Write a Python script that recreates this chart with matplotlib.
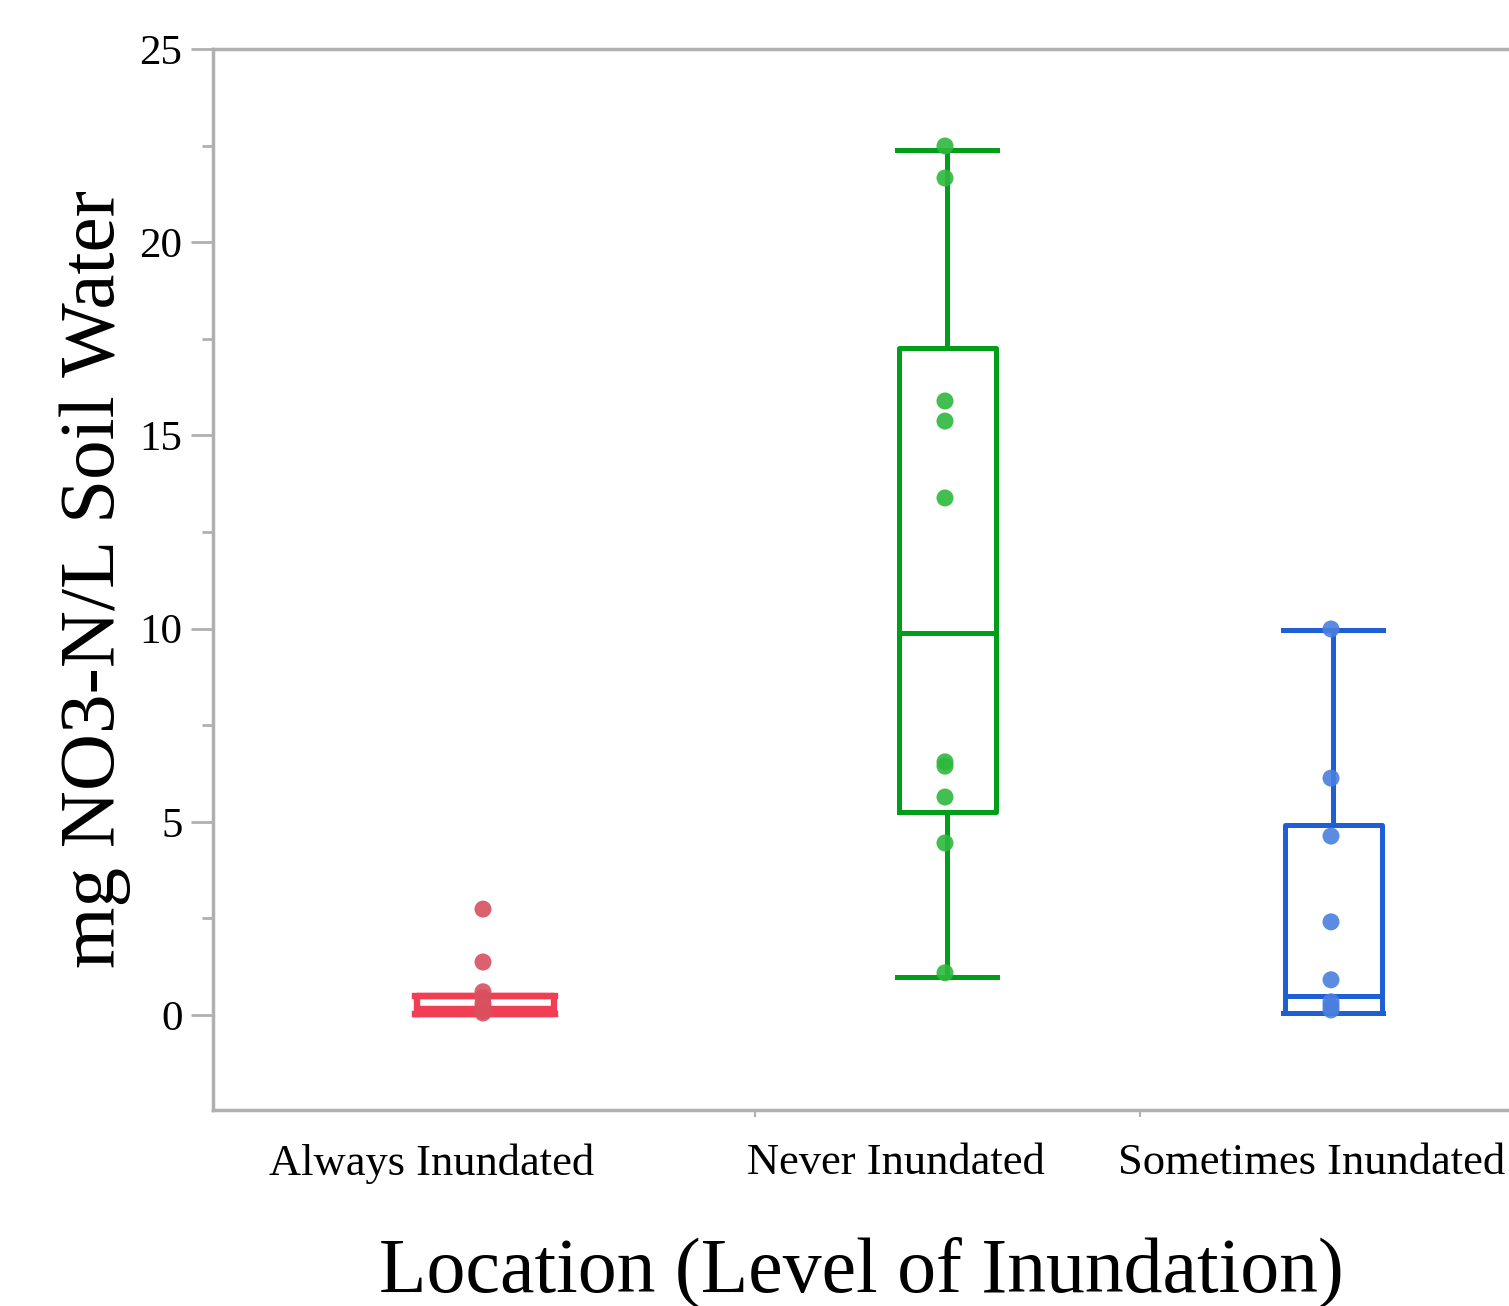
import matplotlib.pyplot as plt
from matplotlib.ticker import MultipleLocator

# groups and raw points
groups = ['Always Inundated', 'Never Inundated', 'Sometimes Inundated']
always_pts = [2.74, 1.37, 0.6, 0.45, 0.3, 0.2, 0.1, 0.05]
never_pts = [22.49, 21.66, 15.89, 15.37, 13.38, 6.55, 6.44, 5.64, 4.45, 1.09]
sometimes_pts = [9.99, 6.13, 4.63, 2.41, 0.91, 0.34, 0.23, 0.13]

# box summaries as JMP drew them
q1s = [0.03, 5.25, 0.05]
medians = [0.15, 9.89, 0.49]
q3s = [0.5, 17.26, 4.92]
whis_lo = [0.03, 0.98, 0.05]
whis_hi = [0.5, 22.39, 9.96]

box_colors = ['#f03e55', '#009e19', '#1f5fd6']
dot_colors = ['#d9505f', '#2db83d', '#4a7fdf']

# layout (horizontal positions in axis pixel units)
box_pos = [272, 734, 1120]
box_w = [137, 97, 97]
box_lw = [4.6, 3.6, 3.6]
label_pos = [219, 683, 1099]
sep_pos = [542, 927]

plt.rcParams['font.family'] = ['Liberation Serif', 'DejaVu Serif']

fig = plt.figure(figsize=(15.09, 13.06), dpi=100)
ax = fig.add_axes([213 / 1509, 196 / 1306, 1 - 213 / 1509, 1061 / 1306])

all_pts = [always_pts, never_pts, sometimes_pts]
for i in range(3):
    stats = [{'med': medians[i], 'q1': q1s[i], 'q3': q3s[i],
              'whislo': whis_lo[i], 'whishi': whis_hi[i], 'fliers': []}]
    c = box_colors[i]
    lw = box_lw[i]
    ax.bxp(stats, positions=[box_pos[i]], widths=box_w[i], showfliers=False,
           boxprops=dict(color=c, linewidth=lw),
           medianprops=dict(color=c, linewidth=lw),
           whiskerprops=dict(color=c, linewidth=lw),
           capprops=dict(color=c, linewidth=lw), capwidths=box_w[i] + 3,
           manage_ticks=False, zorder=2)
    ax.scatter([box_pos[i] - 2] * len(all_pts[i]), all_pts[i], s=150,
               color=dot_colors[i], alpha=0.9, edgecolors='none', zorder=3)

ax.set_xlim(0, 1296)
ax.set_ylim(-2.46, 25)

ax.yaxis.set_major_locator(MultipleLocator(5))
ax.yaxis.set_minor_locator(MultipleLocator(2.5))
ax.set_xticks(label_pos, groups, fontsize=32)
ax.set_xticks(sep_pos, minor=True)
ax.tick_params(axis='x', which='major', length=0, pad=24)
ax.tick_params(axis='x', which='minor', length=5, width=1.5, color='#b0b0b0')
ax.tick_params(axis='y', which='major', length=16, width=2, color='#b0b0b0',
               labelsize=31, pad=6)
ax.tick_params(axis='y', which='minor', length=8, width=2, color='#b0b0b0')

for s in ['left', 'bottom', 'top']:
    ax.spines[s].set_color('#b0b0b0')
    ax.spines[s].set_linewidth(2.5)
ax.spines['right'].set_visible(False)

ax.set_ylabel('mg NO3-N/L Soil Water', fontsize=57, labelpad=6)
ax.set_xlabel('Location (Level of Inundation)', fontsize=56, labelpad=38)

fig.savefig('out.png', dpi=100)
